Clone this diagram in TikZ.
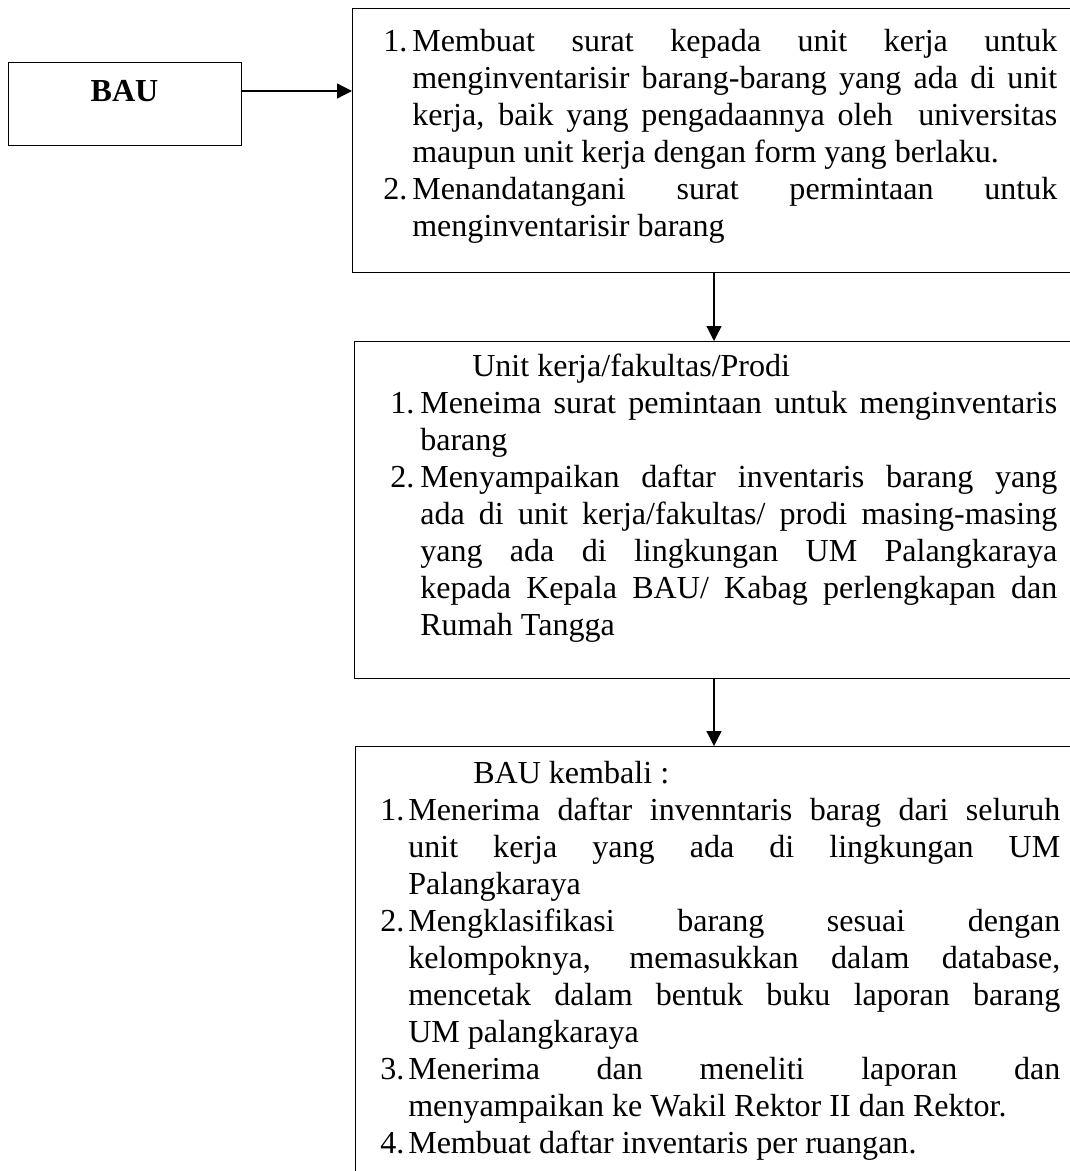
\documentclass[tikz,border=0pt]{standalone}
\usepackage{fontspec}
\setmainfont{Liberation Serif}
\usetikzlibrary{arrows.meta}
\newlength{\numw}
\setlength{\parindent}{0pt}
\newcommand{\jl}[1]{\makebox[\dimexpr\linewidth-\numw\relax][s]{#1}\break}
\newcommand{\itm}[2]{\par\hangindent=\numw\hangafter=1\noindent\makebox[\numw][l]{\strut #1}#2\par}
\tikzset{
	unitbox/.style ={rectangle, draw=black, line width=0.8pt, anchor=north west, inner sep=0pt},
	listtext/.style={anchor=north west, inner sep=0pt, align=justify, font=\fontsize{22.8}{26.3}\selectfont},
	flow/.style    ={-{Triangle[length=3.7mm, width=3.7mm]}, line width=0.9pt},
}
\begin{document}
\begin{tikzpicture}
	\useasboundingbox (0,0) rectangle (26.725,-29.275);
	% source box
	\node[unitbox, minimum width=5.825cm, minimum height=2.075cm] (bau) at (0.2,-1.55) {};
	\node[anchor=base, font=\fontsize{22.8}{26.3}\selectfont\bfseries] (bautxt) at (3.1125,-2.55) {BAU};
	% activity boxes, cut off at the right edge
	\node[unitbox, minimum width=18.325cm, minimum height=6.6cm] (box1) at (8.8,-0.2) {};
	\node[unitbox, minimum width=18.275cm, minimum height=8.425cm] (box2) at (8.85,-8.525) {};
	\node[unitbox, minimum width=18.25cm, minimum height=11.1cm] (box3) at (8.875,-18.65) {};
	% texts
	\node[listtext, text width=16.85cm] (list1) at (9.575,-0.3525) {\setlength{\numw}{0.725cm}%
		\itm{1.}{\jl{Membuat surat kepada unit kerja untuk}\jl{menginventarisir barang-barang yang ada di unit}\jl{kerja, baik yang pengadaannya oleh\ \ universitas}maupun unit kerja dengan form yang berlaku.}
		\itm{2.}{\jl{Menandatangani surat permintaan untuk}menginventarisir barang}};
	\node[listtext, text width=16.675cm] (list2) at (9.75,-8.7525) {\setlength{\numw}{0.75cm}%
		\strut\hspace*{2.05cm}Unit kerja/fakultas/Prodi\par
		\itm{1.}{\jl{Meneima surat pemintaan untuk menginventaris}barang}
		\itm{2.}{\jl{Menyampaikan daftar inventaris barang yang}\jl{ada di unit kerja/fakultas/ prodi masing-masing}\jl{yang ada di lingkungan UM Palangkaraya}\jl{kepada Kepala BAU/ Kabag perlengkapan dan}Rumah Tangga}};
	\node[listtext, text width=17.0cm] (list3) at (9.5,-18.9275) {\setlength{\numw}{0.7cm}%
		\strut\hspace*{2.325cm}BAU kembali :\par
		\itm{1.}{\jl{Menerima daftar invenntaris barag dari seluruh}\jl{unit kerja yang ada di lingkungan UM}Palangkaraya}
		\itm{2.}{\jl{Mengklasifikasi barang sesuai dengan}\jl{kelompoknya, memasukkan dalam database,}\jl{mencetak dalam bentuk buku laporan barang}UM palangkaraya}
		\itm{3.}{\jl{Menerima dan meneliti laporan dan}menyampaikan ke Wakil Rektor II dan Rektor.}
		\itm{4.}{Membuat daftar inventaris per ruangan.}};
	% arrows
	\coordinate (lvl) at (0,-2.275);
	\coordinate (col) at (17.85,0);
	\draw[flow] (bau.east |- lvl) -- (box1.west |- lvl);
	\draw[flow] (box1.south -| col) -- (box2.north -| col);
	\draw[flow] (box2.south -| col) -- (box3.north -| col);
\end{tikzpicture}
\end{document}
